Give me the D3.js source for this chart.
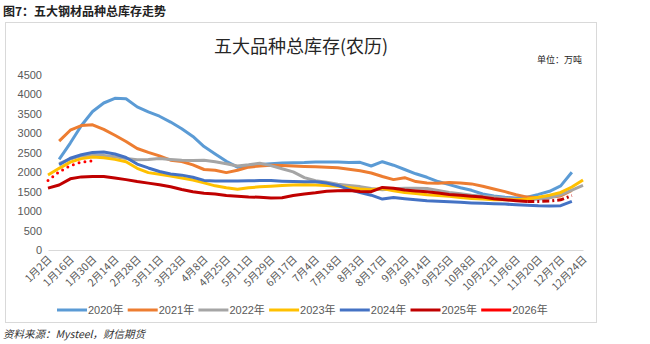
<!DOCTYPE html>
<html>
  <head>
    <meta charset="utf-8">
    <style>
      body { margin: 0; background: #fff; }
      svg { display: block; font-family: "Liberation Sans", "Noto Sans CJK SC", sans-serif; }
      .axis text { fill: #595959; font-size: 11px; }
      .axis path, .axis line { stroke: #d9d9d9; }
    </style>
  </head>
  <body>
    <script src="https://d3js.org/d3.v7.min.js"></script>
    <script type="text/javascript">
      // lunar-calendar inventory of five steel products, 10k tonnes
      const tickLabels = ['1月2日', '1月16日', '1月30日', '2月14日', '2月28日', '3月11日', '3月23日',
        '4月8日', '4月25日', '5月11日', '5月29日', '6月17日', '7月4日', '7月18日', '8月3日',
        '8月17日', '9月2日', '9月14日', '9月25日', '10月8日', '10月22日', '11月6日', '11月20日',
        '12月7日', '12月24日'];
      const categories = d3.range(49);
      const yTicks = [0, 500, 1000, 1500, 2000, 2500, 3000, 3500, 4000, 4500];

      const s2020 = [null, 2330, 2750, 3200, 3560, 3780, 3900, 3890, 3680, 3550, 3440, 3290, 3120, 2920,
        2660, 2470, 2280, 2130, 2170, 2200, 2220, 2235, 2245, 2250, 2265, 2265, 2260, 2250, 2255, 2160,
        2270, 2180, 2070, 1960, 1870, 1760, 1680, 1600, 1535, 1440, 1390, 1355, 1335, 1360, 1430, 1510,
        1650, 2000, null];
      const s2021 = [null, 2800, 3080, 3200, 3220, 3100, 2950, 2790, 2610, 2510, 2420, 2310, 2275, 2190,
        2070, 2050, 1990, 2050, 2130, 2160, 2180, 2170, 2160, 2150, 2140, 2130, 2115, 2075, 2040, 1980,
        1890, 1810, 1860, 1760, 1725, 1715, 1735, 1725, 1700, 1640, 1570, 1500, 1420, 1360, 1345, 1355,
        1390, 1530, null];
      const s2022 = [null, 2220, 2340, 2420, 2440, 2430, 2400, 2350, 2320, 2330, 2350, 2330, 2310, 2300,
        2310, 2270, 2220, 2160, 2190, 2230, 2170, 2090, 2010, 1860, 1780, 1740, 1690, 1660, 1630, 1580,
        1550, 1575, 1590, 1590, 1580, 1530, 1480, 1445, 1410, 1385, 1360, 1330, 1300, 1290, 1310, 1340,
        1420, 1540, 1660];
      const s2023 = [1930, 2100, 2260, 2350, 2390, 2370, 2330, 2270, 2100, 1990, 1950, 1900, 1850, 1800,
        1725, 1650, 1600, 1565, 1600, 1625, 1640, 1660, 1670, 1675, 1670, 1660, 1640, 1610, 1570, 1550,
        1580, 1520, 1480, 1450, 1420, 1400, 1380, 1350, 1325, 1310, 1295, 1290, 1295, 1310, 1355, 1410,
        1480, 1620, 1800];
      const s2024 = [null, 2190, 2360, 2450, 2510, 2520, 2470, 2380, 2210, 2110, 2020, 1955, 1925, 1870,
        1790, 1775, 1775, 1775, 1780, 1785, 1785, 1770, 1760, 1755, 1755, 1720, 1660, 1560, 1475, 1410,
        1310, 1350, 1320, 1295, 1268, 1255, 1240, 1225, 1210, 1200, 1190, 1180, 1165, 1150, 1135, 1130,
        1140, 1250, null];
      const s2025 = [1590, 1670, 1830, 1880, 1890, 1890, 1850, 1810, 1760, 1720, 1680, 1625, 1555, 1500,
        1460, 1440, 1400, 1385, 1365, 1355, 1335, 1345, 1400, 1440, 1470, 1510, 1525, 1530, 1505, 1500,
        1610, 1590, 1545, 1520, 1500, 1465, 1430, 1410, 1385, 1360, 1320, 1290, 1265, 1245, 1250, 1260,
        1290, 1400, null];
      const s2026 = [1790, 2010, 2170, 2260, 2290];
      // 2025 switches to a dash-dot line from this index on
      const dash2025From = 43;

      const series = [
        { name: '2020年', values: s2020, color: '#5B9BD5' },
        { name: '2021年', values: s2021, color: '#ED7D31' },
        { name: '2022年', values: s2022, color: '#A5A5A5' },
        { name: '2023年', values: s2023, color: '#FFC000' },
        { name: '2024年', values: s2024, color: '#4472C4' },
        { name: '2025年', values: s2025, color: '#C00000' },
        { name: '2026年', values: s2026, color: '#FF0000', dotted: true }
      ];

      const width = 650;
      const height = 344;

      const svg = d3.select('body')
        .append('svg')
        .attr('width', width)
        .attr('height', height);

      // figure caption and frame
      svg.append('text')
        .attr('x', 3).attr('y', 16)
        .style('font-family', '"Noto Sans CJK SC", sans-serif')
        .style('font-weight', 'bold')
        .style('font-size', '12px')
        .attr('fill', '#222')
        .text('图7：五大钢材品种总库存走势');

      svg.append('rect')
        .attr('x', 5.5).attr('y', 22.5)
        .attr('width', 591).attr('height', 300)
        .attr('fill', 'none')
        .attr('stroke', '#d9d9d9');

      svg.append('text')
        .attr('x', 301).attr('y', 53)
        .attr('text-anchor', 'middle')
        .style('font-family', '"Noto Sans CJK SC", sans-serif')
        .style('font-size', '18px')
        .attr('fill', '#262626')
        .text('五大品种总库存(农历)');

      svg.append('text')
        .attr('x', 582).attr('y', 63)
        .attr('text-anchor', 'end')
        .style('font-family', '"Noto Sans CJK SC", sans-serif')
        .style('font-size', '9px')
        .attr('fill', '#262626')
        .text('单位：万吨');

      const x = d3.scalePoint()
        .domain(categories)
        .range([48, 583]);

      const y = d3.scaleLinear()
        .domain([0, 4500])
        .range([250, 75]);

      // y axis: labels only
      const yAxis = svg.append('g')
        .attr('class', 'axis')
        .attr('transform', 'translate(44,0)')
        .call(d3.axisLeft(y).tickValues(yTicks).tickFormat(d3.format('d')).tickSize(0).tickPadding(2));
      yAxis.select('.domain').remove();

      // x axis
      const xAxis = svg.append('g')
        .attr('class', 'axis')
        .attr('transform', 'translate(0,250)')
        .call(d3.axisBottom(x)
          .tickValues(categories.filter((d) => d % 2 === 0))
          .tickFormat((d) => tickLabels[d / 2])
          .tickSize(0)
          .tickSizeOuter(0));
      xAxis.select('.domain').attr('stroke', '#d9d9d9');
      xAxis.selectAll('text')
        .style('font-family', '"Noto Sans CJK SC", sans-serif')
        .style('font-size', '10.5px')
        .attr('text-anchor', 'end')
        .attr('dy', null)
        .attr('y', 0)
        .attr('transform', 'translate(4,10) rotate(-45)');

      const line = d3.line()
        .defined((d) => d.v != null)
        .x((d) => x(d.i))
        .y((d) => y(d.v));

      const plot = svg.append('g');

      series.forEach((s) => {
        const pts = s.values.map((v, i) => ({ i, v }));
        if (s.name === '2025年') {
          plot.append('path')
            .attr('d', line(pts.filter((d) => d.i <= dash2025From)))
            .attr('fill', 'none')
            .attr('stroke', s.color)
            .attr('stroke-width', 3)
            .attr('stroke-linejoin', 'round');
          plot.append('path')
            .attr('d', line(pts.filter((d) => d.i >= dash2025From)))
            .attr('fill', 'none')
            .attr('stroke', s.color)
            .attr('stroke-width', 3)
            .attr('stroke-dasharray', '7 3 2 3');
        } else {
          plot.append('path')
            .attr('d', line(pts))
            .attr('fill', 'none')
            .attr('stroke', s.color)
            .attr('stroke-width', 3)
            .attr('stroke-linejoin', 'round')
            .attr('stroke-linecap', s.dotted ? 'round' : 'butt')
            .attr('stroke-dasharray', s.dotted ? '0 6' : null);
        }
      });

      // legend
      const legend = svg.append('g')
        .attr('transform', 'translate(57,310)');
      const item = legend.selectAll('g')
        .data(series)
        .join('g')
        .attr('transform', (d, i) => `translate(${i * 70.7},0)`);
      item.append('line')
        .attr('x1', 0).attr('x2', 30)
        .attr('stroke', (d) => d.color)
        .attr('stroke-width', 3);
      item.append('text')
        .attr('x', 31)
        .attr('y', 4)
        .style('font-size', '11px')
        .attr('fill', '#595959')
        .text((d) => d.name);

      svg.append('text')
        .attr('x', 3).attr('y', 338)
        .style('font-family', '"Noto Sans CJK SC", sans-serif')
        .style('font-style', 'italic')
        .style('font-size', '10.5px')
        .attr('fill', '#333')
        .text('资料来源：Mysteel，财信期货');
    </script>
  </body>
</html>
